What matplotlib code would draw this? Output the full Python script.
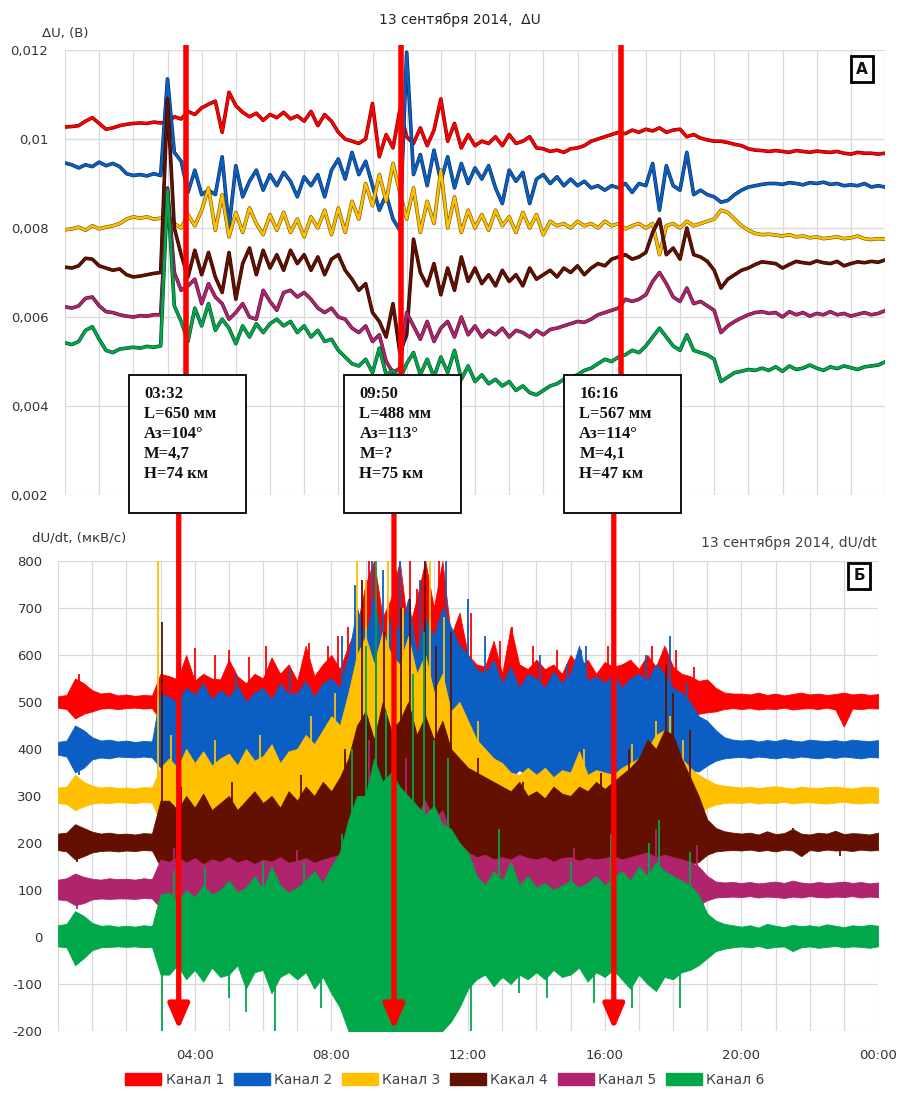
import numpy as np
import matplotlib
matplotlib.use("Agg")
import matplotlib.pyplot as plt
import matplotlib.patheffects as pe
from matplotlib.patches import Rectangle, Patch
from matplotlib.colors import to_rgb

# ---------------------------------------------------------------- data
channel_names = ["Канал 1", "Канал 2", "Канал 3", "Какал 4", "Канал 5", "Канал 6"]
channel_colors = ["#ff0000", "#0b5fc4", "#ffc000", "#631000", "#b0246e", "#00a84a"]

# ΔU, mV, sampled every 0.2 h (00:00 ... 24:00)
hours_du = np.linspace(0, 24, 121)
du_ch1 = [10.27, 10.28, 10.30, 10.40, 10.48, 10.35, 10.22, 10.25, 10.30, 10.33,
          10.35, 10.36, 10.35, 10.38, 10.36, 10.38, 10.50, 10.45, 10.62, 10.55,
          10.70, 10.78, 10.85, 10.15, 11.05, 10.75, 10.60, 10.50, 10.58, 10.42,
          10.55, 10.48, 10.60, 10.45, 10.52, 10.40, 10.62, 10.30, 10.55, 10.40,
          10.15, 10.00, 9.95, 9.90, 10.00, 10.80, 9.60, 10.10, 9.80, 10.65,
          10.05, 9.90, 10.25, 9.85, 10.20, 10.90, 9.95, 10.35, 9.80, 10.10,
          9.85, 9.95, 9.90, 10.05, 9.85, 10.10, 9.90, 9.95, 10.05, 9.80,
          9.78, 9.72, 9.75, 9.70, 9.78, 9.80, 9.85, 9.95, 10.00, 10.05,
          10.10, 10.15, 10.12, 10.20, 10.15, 10.22, 10.18, 10.25, 10.15, 10.20,
          10.22, 10.05, 10.10, 10.02, 9.98, 9.95, 9.95, 9.92, 9.88, 9.85,
          9.78, 9.75, 9.74, 9.72, 9.74, 9.72, 9.70, 9.74, 9.72, 9.70,
          9.73, 9.71, 9.70, 9.72, 9.68, 9.66, 9.70, 9.68, 9.68, 9.66,
          9.68]
du_ch2 = [9.46, 9.42, 9.35, 9.42, 9.38, 9.48, 9.40, 9.45, 9.38, 9.22,
          9.18, 9.20, 9.17, 9.22, 9.18, 11.35, 9.70, 9.50, 8.80, 9.30,
          8.75, 8.85, 8.75, 9.60, 8.00, 9.40, 8.70, 9.05, 9.30, 8.85,
          9.20, 8.95, 9.25, 9.05, 8.70, 9.15, 8.95, 9.20, 8.70, 9.30,
          9.55, 9.10, 9.70, 9.20, 9.50, 8.95, 8.40, 8.75, 8.20, 7.95,
          11.95, 9.20, 9.65, 8.95, 9.75, 9.05, 9.60, 8.90, 9.45, 9.00,
          9.35, 9.10, 9.40, 8.90, 8.55, 9.30, 9.05, 9.25, 8.55, 9.10,
          9.20, 9.00, 9.15, 8.95, 9.10, 8.95, 9.05, 8.90, 8.95, 8.85,
          8.95, 8.90, 9.00, 8.80, 9.00, 8.95, 9.45, 8.40, 9.40, 8.95,
          8.85, 9.70, 8.75, 8.85, 8.75, 8.70, 8.58, 8.62, 8.75, 8.85,
          8.92, 8.95, 8.98, 9.00, 9.00, 8.98, 9.02, 9.00, 8.97, 9.02,
          9.00, 9.03, 8.98, 9.00, 8.95, 8.97, 8.95, 9.00, 8.92, 8.95,
          8.92]
du_ch3 = [7.96, 7.98, 8.02, 7.95, 8.05, 7.98, 8.02, 8.05, 8.10, 8.20,
          8.25, 8.22, 8.25, 8.20, 8.22, 8.25, 8.10, 8.00, 8.30, 8.05,
          8.40, 8.90, 7.95, 8.75, 7.80, 8.35, 7.90, 8.45, 8.10, 7.85,
          8.30, 7.95, 8.35, 7.90, 8.20, 7.80, 8.25, 8.00, 8.40, 7.85,
          8.45, 7.90, 8.60, 8.20, 9.00, 8.50, 9.20, 8.60, 9.45, 8.80,
          8.20, 8.90, 7.90, 8.60, 8.10, 9.30, 8.00, 8.70, 7.90, 8.40,
          8.00, 8.30, 7.95, 8.40, 8.05, 8.25, 7.90, 8.35, 8.00, 8.30,
          7.85, 8.15, 8.05, 8.10, 8.00, 8.15, 8.05, 8.10, 8.00, 8.15,
          8.05, 8.10, 7.98, 8.05, 8.10, 8.00, 8.10, 7.40, 8.05, 8.10,
          8.00, 8.15, 8.05, 8.10, 8.15, 8.20, 8.40, 8.35, 8.20, 8.05,
          7.95, 7.88, 7.85, 7.86, 7.84, 7.82, 7.85, 7.80, 7.82, 7.78,
          7.80, 7.76, 7.78, 7.80, 7.76, 7.78, 7.82, 7.76, 7.74, 7.76,
          7.75]
du_ch4 = [7.12, 7.10, 7.15, 7.32, 7.30, 7.15, 7.10, 7.05, 7.08, 6.95,
          6.90, 6.92, 6.95, 6.98, 7.00, 10.90, 8.00, 7.40, 6.90, 7.50,
          6.95, 7.45, 6.90, 6.55, 7.45, 6.40, 7.20, 7.55, 6.95, 7.50,
          7.10, 7.40, 7.05, 7.50, 7.20, 7.40, 7.05, 7.35, 6.95, 7.30,
          7.40, 7.05, 6.85, 6.60, 6.75, 6.10, 5.90, 5.55, 6.30, 5.20,
          5.60, 7.75, 7.00, 6.70, 7.20, 6.50, 7.10, 6.60, 7.35, 6.80,
          7.10, 6.75, 6.95, 6.70, 7.05, 6.80, 6.95, 6.70, 7.10, 6.85,
          6.95, 7.05, 6.90, 7.10, 7.00, 7.15, 6.95, 7.10, 7.20, 7.15,
          7.30, 7.35, 7.40, 7.30, 7.35, 7.45, 7.90, 8.20, 7.40, 7.55,
          7.30, 8.00, 7.40, 7.35, 7.25, 7.05, 6.65, 6.85, 6.95, 7.05,
          7.10, 7.18, 7.24, 7.22, 7.20, 7.10, 7.18, 7.25, 7.22, 7.20,
          7.26, 7.22, 7.20, 7.25, 7.15, 7.20, 7.24, 7.22, 7.25, 7.23,
          7.28]
du_ch5 = [6.23, 6.20, 6.25, 6.42, 6.45, 6.25, 6.12, 6.10, 6.05, 6.02,
          6.00, 6.03, 6.02, 6.05, 6.05, 8.90, 7.00, 6.60, 6.70, 6.85,
          6.30, 6.75, 6.45, 6.30, 5.95, 6.10, 6.30, 6.00, 5.95, 6.60,
          6.35, 6.15, 6.55, 6.60, 6.45, 6.55, 6.40, 6.20, 6.10, 6.20,
          6.00, 5.95, 5.75, 5.65, 5.80, 5.45, 5.60, 5.00, 4.75, 4.85,
          6.10, 5.80, 5.50, 5.90, 5.45, 5.75, 5.90, 5.55, 6.00, 5.60,
          5.80, 5.55, 5.70, 5.60, 5.75, 5.55, 5.70, 5.65, 5.55, 5.70,
          5.60, 5.72, 5.75, 5.80, 5.85, 5.90, 5.88, 5.95, 6.05, 6.10,
          6.15, 6.20, 6.40, 6.35, 6.40, 6.50, 6.80, 7.00, 6.75, 6.45,
          6.35, 6.65, 6.30, 6.35, 6.25, 6.15, 5.65, 5.80, 5.90, 5.98,
          6.05, 6.10, 6.12, 6.08, 6.10, 6.00, 6.12, 6.05, 6.10, 6.02,
          6.08, 6.05, 6.12, 6.05, 6.08, 6.02, 6.06, 6.10, 6.05, 6.08,
          6.14]
du_ch6 = [5.42, 5.38, 5.45, 5.70, 5.78, 5.50, 5.25, 5.20, 5.28, 5.30,
          5.32, 5.30, 5.34, 5.32, 5.35, 8.85, 6.25, 5.90, 5.45, 6.20,
          5.80, 6.30, 5.70, 5.95, 5.75, 5.40, 5.80, 5.55, 5.85, 5.65,
          5.85, 5.95, 5.80, 5.90, 5.65, 5.80, 5.55, 5.70, 5.45, 5.50,
          5.25, 5.10, 4.95, 4.90, 5.05, 4.75, 5.30, 4.70, 4.80, 4.60,
          4.95, 5.20, 4.70, 5.05, 4.65, 5.10, 4.75, 5.25, 4.60, 4.90,
          4.55, 4.70, 4.50, 4.60, 4.45, 4.55, 4.35, 4.45, 4.30, 4.25,
          4.35, 4.45, 4.50, 4.60, 4.65, 4.70, 4.80, 4.85, 4.95, 5.05,
          5.00, 5.10, 5.15, 5.25, 5.20, 5.35, 5.55, 5.75, 5.55, 5.35,
          5.25, 5.60, 5.25, 5.20, 5.15, 5.05, 4.55, 4.65, 4.75, 4.78,
          4.82, 4.80, 4.85, 4.80, 4.88, 4.78, 4.90, 4.82, 4.85, 4.92,
          4.85, 4.80, 4.88, 4.84, 4.90, 4.86, 4.82, 4.88, 4.90, 4.92,
          4.99]
du_series = [du_ch1, du_ch2, du_ch3, du_ch4, du_ch5, du_ch6]

# dU/dt, µV/s: channel levels and noise envelope every 0.25 h
hours_rate = np.linspace(0, 24, 97)
rate_levels = [500, 400, 300, 200, 100, 0]
rate_hi_ch1 = [512, 515, 550, 540, 525, 518, 520, 514,
               516, 513, 515, 514, 560, 555, 548, 600,
               545, 560, 550, 548, 590, 555, 540, 560,
               550, 595, 560, 580, 545, 620, 555, 580,
               600, 570, 620, 660, 750, 800, 680, 720,
               800, 650, 720, 800, 700, 800, 640, 690,
               600, 580, 575, 630, 560, 660, 580, 570,
               590, 570, 580, 560, 600, 575, 590, 560,
               585, 575, 580, 590, 570, 600, 575, 620,
               575, 560, 555, 545, 548, 530, 520, 518,
               518, 516, 520, 515, 518, 514, 517, 520,
               516, 518, 515, 517, 520, 516, 518, 515,
               517]
rate_lo_ch1 = [488, 485, 465, 475, 480, 486, 487, 485,
               487, 488, 486, 487, 462, 470, 455, 465,
               470, 455, 465, 458, 462, 470, 455, 465,
               458, 468, 455, 462, 465, 455, 470, 460,
               465, 455, 470, 460, 455, 445, 460, 450,
               440, 455, 445, 460, 450, 455, 460, 465,
               465, 470, 460, 470, 465, 475, 460, 470,
               455, 470, 465, 460, 470, 460, 465, 455,
               468, 460, 455, 465, 470, 462, 468, 460,
               465, 470, 468, 475, 478, 480, 485, 487,
               485, 487, 484, 486, 485, 488, 484, 486,
               487, 485, 488, 484, 448, 486, 485, 487,
               486]
rate_hi_ch2 = [415, 418, 450, 440, 425, 418, 420, 416,
               418, 415, 417, 416, 520, 510, 500, 530,
               515, 540, 505, 525, 510, 535, 500, 520,
               530, 505, 540, 515, 520, 545, 510, 540,
               550, 530, 600, 700, 640, 720, 620, 680,
               650, 720, 600, 680, 640, 700, 660, 620,
               600, 570, 560, 590, 540, 575, 530, 560,
               550, 530, 565, 540, 560, 620, 545, 555,
               540, 560, 530, 550, 560, 545, 580, 560,
               530, 520, 500, 470, 460, 440, 425, 420,
               418, 420, 416, 419, 417, 421, 418, 416,
               420, 418, 417, 419, 416, 420, 418, 417,
               419]
rate_lo_ch2 = [388, 384, 350, 360, 378, 382, 380, 384,
               383, 382, 384, 382, 360, 352, 365, 350,
               358, 348, 362, 352, 355, 365, 348, 360,
               352, 362, 345, 358, 360, 350, 365, 355,
               362, 355, 370, 360, 350, 360, 340, 355,
               345, 360, 350, 355, 355, 350, 360, 345,
               350, 345, 355, 340, 348, 340, 355, 345,
               342, 350, 338, 348, 345, 352, 340, 348,
               350, 342, 355, 345, 348, 355, 342, 350,
               345, 350, 355, 352, 365, 375, 380, 382,
               383, 381, 384, 382, 380, 383, 381, 384,
               382, 380, 383, 381, 384, 382, 380, 383,
               382]
rate_hi_ch3 = [318, 320, 345, 330, 322, 318, 320, 317,
               318, 316, 319, 318, 360, 380, 360, 400,
               370, 395, 365, 380, 390, 365, 400, 375,
               385, 410, 370, 395, 400, 430, 410, 440,
               470, 450, 520, 600, 640, 580, 650, 600,
               580, 640, 560, 600, 520, 560, 480, 500,
               460, 420, 400, 380, 370, 350, 345, 360,
               345, 360, 340, 355, 350, 395, 345, 355,
               350, 345, 360, 370, 380, 400, 430, 440,
               410, 380, 360, 345, 335, 325, 322, 320,
               318, 320, 317, 319, 321, 318, 316, 320,
               318, 317, 319, 320, 318, 316, 319, 320,
               318]
rate_lo_ch3 = [285, 283, 270, 278, 284, 286, 285, 287,
               286, 285, 287, 286, 245, 250, 240, 255,
               248, 238, 252, 245, 250, 242, 255, 240,
               248, 235, 250, 245, 240, 250, 238, 245,
               240, 235, 245, 240, 235, 240, 230, 238,
               240, 232, 245, 238, 242, 236, 245, 240,
               245, 240, 248, 242, 246, 250, 244, 248,
               250, 245, 248, 252, 248, 244, 250, 246,
               245, 250, 247, 243, 246, 240, 244, 248,
               250, 255, 258, 262, 275, 282, 285, 286,
               285, 287, 284, 286, 285, 288, 284, 286,
               287, 285, 284, 286, 288, 285, 284, 286,
               285]
rate_hi_ch4 = [220, 222, 240, 232, 224, 220, 222, 219,
               220, 218, 221, 220, 290, 290, 270, 300,
               275, 305, 270, 285, 300, 270, 290, 310,
               285, 300, 275, 310, 290, 320, 300, 330,
               310, 340, 380, 450, 480, 420, 500, 440,
               460, 500, 430, 470, 420, 460, 400, 380,
               360, 350, 340, 330, 320, 310, 330, 300,
               310, 295, 320, 305, 300, 320, 310, 330,
               315, 330, 345, 360, 380, 420, 400, 440,
               430, 380, 340, 300, 250, 232, 225, 222,
               220, 222, 218, 225, 219, 221, 230, 220,
               218, 222, 220, 226, 219, 221, 220, 218,
               222]
rate_lo_ch4 = [185, 182, 165, 172, 180, 183, 184, 182,
               184, 183, 185, 184, 150, 145, 155, 140,
               150, 142, 155, 145, 148, 155, 140, 150,
               145, 152, 140, 148, 150, 142, 148, 138,
               145, 150, 140, 145, 135, 140, 130, 138,
               140, 132, 138, 135, 130, 138, 128, 135,
               140, 135, 142, 132, 138, 145, 135, 142,
               150, 145, 155, 148, 152, 148, 155, 150,
               150, 155, 148, 152, 145, 150, 140, 148,
               150, 145, 155, 160, 175, 182, 184, 185,
               184, 186, 183, 185, 182, 186, 184, 172,
               185, 183, 186, 184, 185, 183, 186, 184,
               185]
rate_hi_ch5 = [122, 125, 135, 128, 124, 122, 125, 123,
               124, 122, 125, 123, 165, 160, 170, 158,
               168, 155, 165, 160, 170, 158, 165, 155,
               165, 160, 170, 158, 162, 168, 158, 165,
               170, 175, 180, 220, 300, 280, 320, 300,
               280, 300, 260, 290, 250, 270, 220, 200,
               180, 170, 175, 165, 170, 165, 175, 168,
               165, 170, 160, 168, 170, 162, 168, 165,
               168, 172, 165, 170, 175, 180, 170, 175,
               170, 165, 160, 150, 130, 118, 116, 117,
               115, 117, 114, 116, 118, 115, 120, 116,
               114, 117, 115, 116, 118, 115, 117, 114,
               116]
rate_lo_ch5 = [80, 78, 68, 72, 80, 82, 81, 82,
               82, 81, 83, 82, 62, 58, 65, 55,
               60, 55, 62, 58, 56, 62, 55, 60,
               58, 54, 60, 56, 55, 60, 52, 58,
               55, 50, 55, 48, 40, 45, 35, 42,
               45, 40, 48, 42, 48, 45, 50, 46,
               52, 55, 50, 54, 55, 52, 56, 53,
               54, 57, 52, 56, 55, 52, 57, 54,
               53, 56, 52, 55, 50, 54, 48, 52,
               55, 58, 62, 68, 78, 84, 85, 86,
               85, 87, 84, 86, 85, 83, 86, 84,
               87, 85, 84, 86, 85, 87, 84, 86,
               85]
rate_hi_ch6 = [25, 28, 55, 45, 30, 24, 25, 22,
               24, 22, 25, 23, 90, 95, 75, 100,
               85, 110, 90, 100, 120, 95, 105, 130,
               100, 150, 110, 95, 105, 120, 140, 115,
               150, 180, 250, 300, 300, 380, 330, 350,
               320, 300, 280, 260, 280, 240, 230, 200,
               180, 130, 110, 140, 120, 160, 110, 130,
               105, 115, 100, 110, 120, 105, 115, 130,
               110, 125, 140, 120, 150, 130, 160, 140,
               130, 120, 110, 90, 50, 35, 28, 25,
               22, 25, 20, 28, 24, 21, 26, 23,
               25, 22, 27, 24, 21, 25, 23, 26,
               24]
rate_lo_ch6 = [-20, -22, -60, -45, -28, -22, -21, -20,
               -21, -20, -22, -21, -80, -80, -60, -90,
               -70, -95, -65, -85, -80, -60, -110, -75,
               -70, -120, -85, -75, -90, -75, -110, -85,
               -120, -150, -200, -210, -210, -210, -210, -210,
               -210, -210, -210, -210, -210, -200, -180, -150,
               -110, -90, -80, -105, -85, -100, -80, -90,
               -75, -90, -70, -85, -80, -65, -95, -75,
               -85, -70, -90, -110, -80, -100, -115, -85,
               -90, -75, -70, -60, -45, -30, -25, -22,
               -20, -22, -19, -24, -21, -20, -30, -22,
               -20, -23, -21, -19, -22, -20, -21, -23,
               -20]
rate_hi = [rate_hi_ch1, rate_hi_ch2, rate_hi_ch3, rate_hi_ch4, rate_hi_ch5, rate_hi_ch6]
rate_lo = [rate_lo_ch1, rate_lo_ch2, rate_lo_ch3, rate_lo_ch4, rate_lo_ch5, rate_lo_ch6]

# isolated bursts of dU/dt: (hour, peak value) per channel
rate_spikes = [
    [(0.6, 560), (0.7, 470), (3.2, 455), (3.5, 600), (4.0, 615), (4.6, 600),
     (5.0, 610), (5.6, 595), (6.1, 620), (6.6, 455), (7.35, 625), (7.9, 620),
     (8.2, 640), (8.5, 660), (9.1, 800), (9.9, 780), (10.3, 800), (10.5, 740),
     (11.15, 800), (11.3, 760), (12.1, 690), (12.95, 630), (13.3, 660),
     (13.9, 620), (14.6, 610), (15.3, 610), (16.1, 620), (16.6, 450),
     (17.4, 620), (18.1, 610), (18.6, 575)],
    [(0.6, 345), (3.1, 340), (4.4, 345), (5.2, 560), (6.8, 570), (7.6, 340),
     (8.3, 640), (8.7, 750), (9.2, 800), (9.5, 780), (10.0, 800), (10.6, 760),
     (11.35, 800), (12.0, 720), (12.5, 640), (13.2, 330), (14.1, 600),
     (14.9, 580), (15.45, 620), (16.4, 335), (17.2, 600), (17.9, 640),
     (18.4, 540)],
    [(2.93, 800), (3.3, 430), (4.6, 420), (5.9, 430), (6.7, 235), (7.4, 470),
     (8.1, 520), (8.75, 800), (9.0, 760), (9.65, 800), (10.1, 700),
     (10.9, 800), (11.3, 680), (12.3, 460), (13.0, 230), (15.4, 400),
     (16.8, 410), (17.5, 460), (17.9, 470), (18.3, 420)],
    [(0.55, 160), (3.03, 670), (3.6, 320), (4.2, 120), (5.1, 330), (6.2, 130),
     (7.1, 345), (8.4, 400), (8.9, 760), (9.3, 700), (9.55, 650), (9.85, 780),
     (10.05, 700), (10.3, 720), (10.75, 800), (11.05, 620), (11.5, 650),
     (12.3, 380), (12.6, 120), (13.6, 330), (14.8, 130), (15.9, 350),
     (16.7, 400), (17.8, 580), (18.0, 520), (18.5, 440), (21.5, 232),
     (22.9, 172)],
    [(0.55, 60), (3.4, 190), (5.8, 40), (7.0, 185), (9.1, 420), (10.2, 380),
     (12.7, 35), (15.1, 190), (16.9, 40), (17.5, 230), (18.7, 195)],
    [(3.05, -200), (3.4, 140), (4.3, 150), (5.0, -130), (5.5, -160),
     (6.0, 160), (6.35, -200), (7.2, 160), (7.7, -150), (8.3, 220),
     (8.6, 400), (9.0, 620), (9.3, 800), (9.6, 480), (9.8, 700), (10.4, 560),
     (10.7, 650), (11.0, 420), (11.4, 380), (12.1, -200), (12.9, 230),
     (13.5, -120), (14.3, -130), (15.0, 160), (15.7, -140), (16.2, 220),
     (16.8, -150), (17.3, 200), (17.6, 250), (18.2, -150), (18.5, 180)],
]

# earthquake notes
event_labels = ["03:32", "09:50", "16:16"]
event_notes = [
    ["L=650 мм", "Аз=104°", "M=4,7", "H=74 км"],
    ["L=488 мм", "Аз=113°", "M=?", "H=75 км"],
    ["L=567 мм", "Аз=114°", "M=4,1", "H=47 км"],
]
event_hours = [int(s[:2]) + int(s[3:]) / 60 for s in event_labels]

du_ticks = [0.002, 0.004, 0.006, 0.008, 0.010, 0.012]
du_tick_labels = ["0,002", "0,004", "0,006", "0,008", "0,01", "0,012"]
rate_ticks = [-200, -100, 0, 100, 200, 300, 400, 500, 600, 700, 800]
time_ticks = [4, 8, 12, 16, 20, 24]
time_tick_labels = ["04:00", "08:00", "12:00", "16:00", "20:00", "00:00"]

# ---------------------------------------------------------------- figure
W, H = 899, 1094
plt.rcParams["font.family"] = ["DejaVu Sans"]
plt.rcParams["axes.unicode_minus"] = False
fig = plt.figure(figsize=(W / 100, H / 100), dpi=100)

def px_axes(x0, y0, x1, y1):
    return fig.add_axes([x0 / W, 1 - y1 / H, (x1 - x0) / W, (y1 - y0) / H])

ax1 = px_axes(65, 50, 885, 495)
ax2 = px_axes(58, 561, 878, 1031)

grid_c = "#d9d9d9"
tick_c = "#333333"
for ax in (ax1, ax2):
    for s in ax.spines.values():
        s.set_visible(False)
    ax.set_xlim(0, 24)
    ax.set_xticks(range(25), minor=True)
    ax.grid(True, which="both", color=grid_c, lw=0.9)
    ax.set_axisbelow(True)
    ax.tick_params(which="both", length=0, colors=tick_c, labelsize=9.5)

# top panel: ΔU
ax1.set_ylim(0.002, 0.012)
ax1.set_yticks(du_ticks)
ax1.set_yticklabels(du_tick_labels)
ax1.set_xticks(time_ticks)
ax1.set_xticklabels([])
ax1.tick_params(axis="y", pad=12)
for vals, col in zip(du_series, channel_colors):
    dark = tuple(c * 0.4 for c in to_rgb(col))
    ax1.plot(hours_du, np.asarray(vals) / 1000.0, color=col, lw=1.8, zorder=3,
             path_effects=[pe.Stroke(linewidth=2.6, foreground=dark), pe.Normal()])

# bottom panel: dU/dt
ax2.set_ylim(-200, 800)
ax2.set_yticks(rate_ticks)
ax2.set_xticks(time_ticks)
ax2.set_xticklabels(time_tick_labels)
ax2.tick_params(axis="y", pad=11)
ax2.tick_params(axis="x", pad=13)
for lvl, hi, lo, spikes, col in zip(rate_levels, rate_hi, rate_lo, rate_spikes, channel_colors):
    ax2.fill_between(hours_rate, lo, hi, color=col, lw=0.6, edgecolor=col, zorder=3)
    st, sv = zip(*spikes)
    ax2.vlines(st, lvl, sv, color=col, lw=1.3, zorder=3)

# red arrows marking the events
red = "#ff0000"
for te in event_hours:
    ax1.plot([te, te], [0.002, 0.01212], color=red, lw=4, zorder=6, clip_on=False,
             solid_capstyle="butt")
    ax2.annotate("", xy=(te, -197), xytext=(te, 905), annotation_clip=False, zorder=6,
                 arrowprops=dict(arrowstyle="-|>,head_length=0.75,head_width=0.32",
                                 mutation_scale=20, color=red, lw=3.8,
                                 shrinkA=0, shrinkB=0))

# note boxes (figure pixel layout)
box_w, box_top, box_bot = 117, 375, 513
for te, lab, notes in zip(event_hours, event_labels, event_notes):
    xc = ax1.transData.transform((te, 0.005))[0] + 2
    left = xc - box_w / 2
    fig.patches.append(Rectangle((left / W, 1 - box_bot / H), box_w / W,
                                 (box_bot - box_top) / H, transform=fig.transFigure,
                                 facecolor="white", edgecolor="black", lw=1.3,
                                 zorder=10))
    fig.text((left + 15) / W, 1 - (box_top + 11) / H, "\n".join([lab] + notes),
             ha="left", va="top", family="Liberation Serif", weight="bold",
             fontsize=12, linespacing=1.33, color="#111111", zorder=11)

# panel titles and axis captions
fig.text(460 / W, 1 - 20 / H, "13 сентября 2014,  ΔU", ha="center", va="center",
         fontsize=10, color="#222222")
fig.text(877 / W, 1 - 543 / H, "13 сентября 2014, dU/dt", ha="right", va="center",
         fontsize=10, color="#404040")
fig.text(42 / W, 1 - 33 / H, "ΔU, (В)", ha="left", va="center", fontsize=9.5,
         color=tick_c)
fig.text(32 / W, 1 - 538 / H, "dU/dt, (мкВ/с)", ha="left", va="center", fontsize=9.5,
         color=tick_c)

for txt, xc, yc in [("А", 862, 69), ("Б", 859, 576)]:
    fig.text(xc / W, 1 - yc / H, txt, ha="center", va="center", fontsize=11,
             weight="bold", color="#111111",
             bbox=dict(boxstyle="square,pad=0.35", facecolor="white",
                       edgecolor="black", lw=2))

# legend
handles = [Patch(facecolor=c, edgecolor=c) for c in channel_colors]
fig.legend(handles, channel_names, loc="center", bbox_to_anchor=(445 / W, 1 - 1080 / H),
           ncol=6, frameon=False, fontsize=10, handlelength=2.6, handleheight=0.9,
           handletextpad=0.3, columnspacing=0.7, labelcolor="#404040")

fig.savefig("out.png", dpi=100)
